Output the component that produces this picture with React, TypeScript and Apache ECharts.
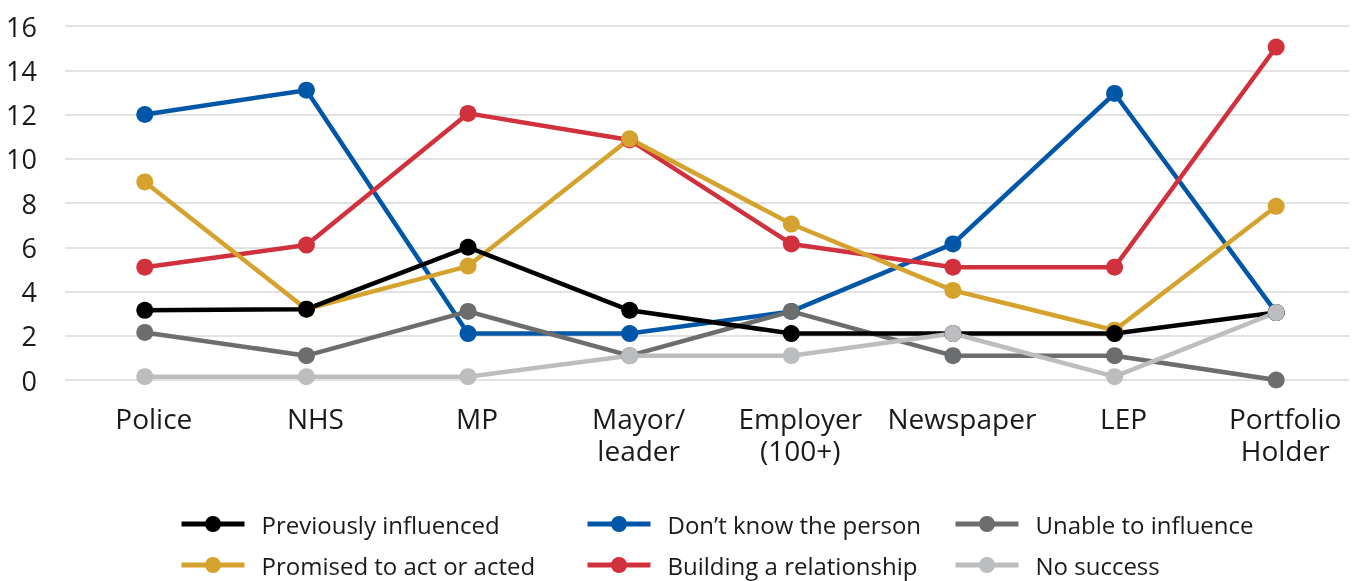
import React, { useEffect, useRef } from "react";
import * as echarts from "echarts";

const categories = ["Police", "NHS", "MP", "Mayor/\nleader", "Employer\n(100+)", "Newspaper", "LEP", "Portfolio\nHolder"];
const previouslyInfluenced = [3.15, 3.2, 6.0, 3.15, 2.1, 2.1, 2.1, 3.05];
const dontKnow = [12.0, 13.1, 2.1, 2.1, 3.1, 6.15, 12.95, 3.05];
const unableToInfluence = [2.15, 1.1, 3.1, 1.1, 3.1, 1.1, 1.1, 0];
const promised = [8.95, 3.2, 5.15, 10.9, 7.05, 4.05, 2.25, 7.85];
const building = [5.1, 6.1, 12.05, 10.85, 6.15, 5.1, 5.1, 15.05];
const noSuccess = [0.15, 0.15, 0.15, 1.1, 1.1, 2.1, 0.15, 3.05];

const FONT = "Open Sans";

function mk(name: string, data: number[], color: string) {
  return {
    name,
    type: "line",
    xAxisIndex: 1,
    yAxisIndex: 1,
    data,
    symbol: "circle",
    symbolSize: 17,
    lineStyle: { color, width: 4.5 },
    itemStyle: { color },
    emphasis: { disabled: true },
  };
}

function legendAt(left: number, centerY: number, name: string) {
  return {
    orient: "horizontal",
    left,
    top: centerY - 12,
    padding: 0,
    itemWidth: 63,
    itemHeight: 20,
    lineStyle: { width: 5 },
    data: [name],
    textStyle: { fontFamily: FONT, fontSize: 24, color: "#1a1a1a", padding: [0, 0, 0, 12] },
  };
}

export default function App() {
  const ref = useRef<HTMLDivElement>(null);
  useEffect(() => {
    const chart = echarts.init(ref.current!, null, { renderer: "svg" });
    chart.setOption({
      animation: false,
      grid: [
        { left: 65, right: 8, top: 26, bottom: 201 },
        { left: 64, width: 1297, top: 26, bottom: 201 },
      ],
      xAxis: [
        { type: "value", gridIndex: 0, min: 0, max: 1, show: false },
        {
          type: "category",
          gridIndex: 1,
          data: categories,
          axisLine: { show: false },
          axisTick: { show: false },
          axisLabel: {
            interval: 0,
            fontFamily: FONT,
            fontSize: 28,
            color: "#1a1a1a",
            lineHeight: 32,
            margin: 22,
            padding: [0, 0, 0, 18],
          },
        },
      ],
      yAxis: [
        {
          type: "value",
          gridIndex: 0,
          min: 0,
          max: 16,
          interval: 2,
          axisLine: { show: false },
          axisTick: { show: false },
          axisLabel: { fontFamily: FONT, fontSize: 27, color: "#1a1a1a", margin: 28 },
          splitLine: { lineStyle: { color: "#d9d9d9", width: 1.5 } },
        },
        {
          type: "value",
          gridIndex: 1,
          min: 0,
          max: 16,
          interval: 2,
          axisLine: { show: false },
          axisTick: { show: false },
          axisLabel: { show: false },
          splitLine: { show: false },
        },
      ],
      legend: [
        legendAt(179, 524, "Previously influenced"),
        legendAt(179, 565, "Promised to act or acted"),
        legendAt(585, 524, "Don\u2019t know the person"),
        legendAt(585, 565, "Building a relationship"),
        legendAt(953, 524, "Unable to influence"),
        legendAt(953, 565, "No success"),
      ],
      series: [
        mk("Don\u2019t know the person", dontKnow, "#0057a8"),
        mk("Unable to influence", unableToInfluence, "#6c6d6f"),
        mk("Building a relationship", building, "#d1313d"),
        mk("Promised to act or acted", promised, "#d5a22d"),
        mk("Previously influenced", previouslyInfluenced, "#000000"),
        mk("No success", noSuccess, "#bcbdbf"),
      ],
    });
    return () => chart.dispose();
  }, []);
  return <div ref={ref} style={{ position: "fixed", left: 0, top: 0, width: 1357, height: 581 }} />;
}
